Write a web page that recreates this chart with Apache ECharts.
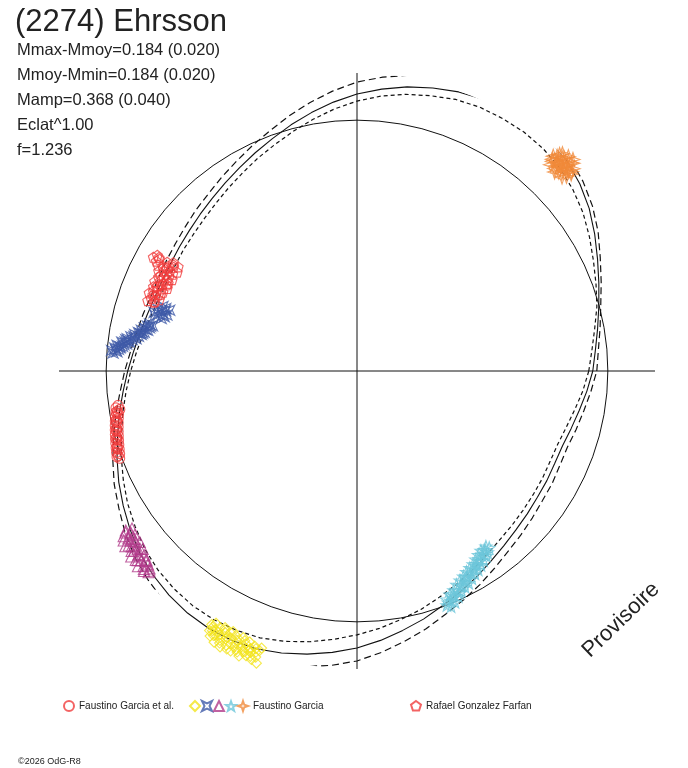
<!DOCTYPE html>
<html><head><meta charset="utf-8">
<script src="https://cdn.jsdelivr.net/npm/echarts@6/dist/echarts.min.js"></script>
<style>html,body{margin:0;padding:0;background:#fff}#c{width:688px;height:768px}</style>
</head><body><div id="c"></div>
<script>
// ---- data (radius relative to mean-brightness circle = 1, angle = rotational phase in degrees) ----
const curveAngles = Array.from({length:72}, (_, i) => i * 5);   // sampling grid 0..355 deg
const modelRadius = [0.940,0.954,0.974,0.998,1.026,1.058,1.094,1.130,1.160,1.184,1.196,1.200,1.198,1.194,1.184,1.168,1.150,1.128,
  1.104,1.076,1.046,1.016,0.986,0.960,0.936,0.916,0.898,0.884,0.872,0.864,0.858,0.856,0.858,0.866,0.878,0.894,
  0.914,0.936,0.962,0.988,1.018,1.048,1.076,1.104,1.130,1.150,1.166,1.178,1.184,1.184,1.178,1.164,1.146,1.126,
  1.104,1.078,1.050,1.024,0.996,0.972,0.950,0.928,0.910,0.896,0.886,0.878,0.874,0.870,0.872,0.884,0.900,0.920];
const upperRadius = [0.956,0.966,0.984,1.006,1.036,1.070,1.110,1.146,1.176,1.200,1.216,1.224,1.226,1.228,1.224,1.212,1.196,1.176,
  1.152,1.120,1.086,1.052,1.018,0.990,0.964,0.942,0.922,0.908,0.894,0.884,0.878,0.874,0.874,0.882,0.892,0.906,
  0.926,0.948,0.976,1.004,1.036,1.068,1.096,1.128,1.156,1.178,1.198,1.214,1.224,1.228,1.224,1.212,1.196,1.178,
  1.156,1.126,1.094,1.064,1.032,1.006,0.982,0.958,0.938,0.924,0.912,0.902,0.898,0.892,0.892,0.904,0.918,0.936];
const lowerRadius = [0.924,0.940,0.962,0.990,1.014,1.040,1.070,1.100,1.124,1.144,1.156,1.162,1.162,1.160,1.152,1.136,1.120,1.100,
  1.076,1.048,1.018,0.988,0.960,0.936,0.912,0.892,0.874,0.860,0.850,0.844,0.838,0.838,0.842,0.850,0.864,0.882,
  0.902,0.924,0.948,0.972,1.000,1.028,1.056,1.080,1.104,1.122,1.134,1.142,1.144,1.140,1.132,1.116,1.096,1.074,
  1.052,1.030,1.006,0.984,0.960,0.938,0.918,0.898,0.882,0.872,0.864,0.858,0.854,0.850,0.852,0.864,0.882,0.904];
const meanRadius = 1.0;
const axisExtent = 1.188;

// observations [radius, phase angle]
const fgEtAl = [[0.962,188.2],[0.972,188.7],[0.958,189.2],[0.975,189.7],[0.966,190.2],[0.980,190.7],[0.970,191.2],[0.984,191.7],[0.974,192.2],[0.988,192.7],
  [0.978,193.2],[0.992,193.7],[0.982,194.2],[0.996,194.7],[0.986,195.2],[1.000,195.7],[0.990,196.2],[1.004,196.7],[0.994,197.2],[1.008,197.7],
  [0.998,198.2],[1.012,198.7],[1.002,199.2],[1.016,199.7],[1.008,200.2],[0.972,190.0],[0.980,192.0],[0.988,194.0],[0.996,196.0],[1.004,198.0],
  [0.968,189.5],[0.978,191.5],[0.986,193.5],[0.994,195.5],[1.002,197.5],[1.010,199.5]];
const fgYellow = [[1.165,240.2],[1.190,240.4],[1.152,240.8],[1.208,241.0],[1.175,241.3],[1.195,241.7],[1.160,241.9],[1.222,242.2],[1.185,242.5],[1.150,242.8],
  [1.205,243.0],[1.168,243.3],[1.228,243.6],[1.190,243.9],[1.158,244.2],[1.212,244.5],[1.178,244.8],[1.200,245.1],[1.160,245.4],[1.225,245.7],
  [1.188,246.0],[1.170,246.3],[1.210,246.6],[1.155,246.9],[1.195,247.2],[1.230,247.5],[1.175,247.8],[1.205,248.1],[1.162,248.4],[1.218,248.7],
  [1.185,249.0],[1.200,249.3],[1.170,249.6],[1.225,249.9],[1.192,250.2],[1.210,250.5],[1.180,250.8],[1.232,251.0],[1.182,244.0],[1.205,246.0],
  [1.180,242.0],[1.190,248.0],[1.172,240.6],[1.200,241.5],[1.158,243.0],[1.215,243.2],[1.175,245.9],[1.218,246.9],[1.165,247.4],[1.195,248.9],
  [1.178,250.0],[1.215,249.5],[1.150,244.6],[1.192,242.9],[1.208,247.8],[1.168,251.0],[1.185,240.9],[1.224,244.9]];
const fgBlue = [[0.975,175.8],[0.960,175.4],[0.982,175.2],[0.955,174.8],[0.970,174.6],[0.948,174.2],[0.962,173.9],[0.935,173.6],[0.925,173.3],[0.945,173.0],
  [0.915,172.6],[0.930,172.3],[0.905,172.0],[0.890,171.7],[0.912,171.4],[0.882,171.0],[0.898,170.7],[0.872,170.4],[0.885,170.0],[0.862,169.7],
  [0.875,169.3],[0.850,169.0],[0.865,168.6],[0.845,168.2],[0.855,167.9],[0.835,167.5],[0.848,167.2],[0.940,174.0],[0.925,172.0],[0.868,170.0],
  [0.965,175.0],[0.950,174.4],[0.932,172.9],[0.920,172.7],[0.900,171.2],[0.878,170.2],[0.858,168.9],[0.842,167.8],
  [0.812,163.2],[0.800,162.5],[0.825,164.0],[0.785,162.0],[0.835,164.6],[0.815,161.6],[0.808,165.0],[0.790,163.6],[0.830,162.8],[0.798,164.3],
  [0.802,161.9],[0.842,163.9],[0.818,163.0],[0.805,164.0]];
const fgMagenta = [[1.120,214.6],[1.095,215.0],[1.140,215.3],[1.112,215.7],[1.150,216.0],[1.100,216.4],[1.128,216.8],[1.158,217.1],[1.115,217.5],[1.138,217.9],
  [1.102,218.2],[1.150,218.6],[1.125,219.0],[1.165,219.4],[1.110,219.7],[1.140,220.1],[1.160,220.5],[1.122,220.9],[1.145,221.3],[1.170,221.7],
  [1.128,222.0],[1.152,222.4],[1.135,222.8],[1.165,223.2],[1.142,223.6],[1.155,224.0],[1.125,218.0],[1.135,220.0],[1.130,216.2],
  [1.108,215.5],[1.145,217.4],[1.118,219.3],[1.155,220.8],[1.132,221.9],[1.160,222.9],[1.140,218.9],[1.112,217.0],[1.148,223.9],[1.125,214.9]];
const fgCyan = [[1.000,291.0],[0.978,291.4],[1.010,291.8],[0.990,292.2],[0.965,292.6],[1.000,293.0],[0.975,293.4],[0.955,293.8],[0.985,294.2],[0.962,294.6],
  [0.940,295.0],[0.972,295.4],[0.950,295.8],[0.930,296.2],[0.962,296.6],[0.942,297.0],[0.922,297.4],[0.955,297.8],[0.932,298.2],[0.912,298.6],
  [0.945,299.0],[0.925,299.4],[0.905,299.8],[0.935,300.2],[0.915,300.6],[0.898,301.0],[0.928,301.4],[0.905,301.8],[0.888,302.2],[0.918,302.6],
  [0.895,303.0],[0.878,303.4],[0.908,303.8],[0.885,304.2],[0.870,304.6],[0.900,305.0],[0.875,305.4],[0.890,305.8],[0.868,306.3],[0.880,306.8],
  [0.992,291.5],[0.968,293.2],[0.952,296.0],[0.928,298.0],[0.918,300.4],[0.902,302.8],[0.888,304.8],[0.975,294.8],[0.938,297.6],[0.912,301.6],
  [0.982,292.9],[0.880,305.6]];
const fgOrange = [[1.160,42.6],[1.140,42.9],[1.180,43.1],[1.125,43.4],[1.165,43.6],[1.195,43.9],[1.145,44.1],[1.172,44.3],[1.130,44.6],[1.188,44.8],
  [1.155,45.0],[1.118,45.2],[1.200,45.4],[1.165,45.6],[1.138,45.9],[1.180,46.1],[1.150,46.3],[1.192,46.6],[1.128,46.8],[1.170,47.0],
  [1.148,47.3],[1.160,47.6],[1.158,44.0],[1.145,45.5],[1.170,46.5],[1.150,43.5],[1.165,44.7],[1.185,45.8],[1.150,46.9],[1.205,44.4],
  [1.135,44.0],[1.175,45.0],[1.155,46.0],[1.190,44.2],[1.142,47.0],[1.168,42.9],[1.128,45.7],[1.182,46.9],[1.160,43.3],[1.150,45.1]];
const rgf = [[0.850,149.5],[0.825,149.8],[0.872,150.2],[0.840,150.5],[0.860,150.9],[0.818,151.2],[0.880,151.6],[0.845,151.9],[0.830,152.3],[0.866,152.6],
  [0.850,153.0],[0.885,153.3],[0.822,153.7],[0.858,154.0],[0.840,154.4],[0.875,154.7],[0.830,155.1],[0.862,155.4],[0.848,155.8],[0.882,156.1],
  [0.825,156.5],[0.865,156.8],[0.845,157.2],[0.878,157.5],[0.835,157.9],[0.860,158.2],[0.872,158.6],[0.848,159.0],[0.885,159.4],[0.858,159.8],
  [0.838,160.2],[0.870,160.6],[0.852,161.0],[0.880,161.4],[0.905,150.5],[0.912,151.3],[0.920,149.9],[0.898,152.0],[0.930,150.8],
  [0.845,150.0],[0.862,151.5],[0.838,153.5],[0.870,153.9],[0.852,156.3],[0.840,158.6],[0.868,159.6],[0.855,161.3],[0.875,152.0],[0.832,155.6],
  [0.865,157.2],[0.910,150.2]];

const titleText = '(2274) Ehrsson';
const statLines = ['Mmax-Mmoy=0.184 (0.020)','Mmoy-Mmin=0.184 (0.020)','Mamp=0.368 (0.040)','Eclat^1.00','f=1.236'];

// ---- build ----
const FONT = '"Liberation Sans", Arial, sans-serif';
function closed(rs){ const d = curveAngles.map((a,i)=>[rs[i],a]); d.push([rs[0],360]); return d; }
const circleData = [];
for (let a = 0; a <= 360; a += 5) circleData.push([meanRadius, a]);

const SYM = {
  star5: 'path://M0,-10 L2.35,-3.24 L9.51,-3.09 L3.8,1.24 L5.88,8.09 L0,4 L-5.88,8.09 L-3.8,1.24 L-9.51,-3.09 L-2.35,-3.24 Z',
  star4: 'path://M0,-10 L2.5,-2.5 L10,0 L2.5,2.5 L0,10 L-2.5,2.5 L-10,0 L-2.5,-2.5 Z',
  quad: 'path://M-8,-8 L0,-4 L8,-8 L4,0 L8,8 L0,4 L-8,8 L-4,0 Z',
  pent: 'path://M0,-10 L9.51,-3.09 L5.88,8.09 L-5.88,8.09 L-9.51,-3.09 Z'
};
function scat(name, data, symbol, size, color){
  return {type:'scatter', coordinateSystem:'polar', name, data, symbol, symbolSize:size, clip:false, z:3,
    itemStyle:{color:'rgba(0,0,0,0)', borderColor:color, borderWidth:1.1}, silent:true};
}
function curve(data, type, width){
  return {type:'line', coordinateSystem:'polar', data, smooth:false, symbol:'none', clip:false, silent:true, z:2,
    lineStyle:{color:'#111', width, type}};
}

const chart = echarts.init(document.getElementById('c'), null, {renderer:'canvas'});
const legendText = {fontSize:10, color:'#222', fontFamily:FONT};
chart.setOption({
  animation:false,
  backgroundColor:'#fff',
  title:[
    {text:titleText, left:15, top:7, padding:0, textStyle:{fontSize:31, fontWeight:'normal', color:'#222', fontFamily:FONT}},
    {text:statLines.join('\n'), left:17, top:38, padding:0, textStyle:{fontSize:16.5, lineHeight:25, fontWeight:'normal', color:'#222', fontFamily:FONT}},
    {text:'©2026 OdG-R8', left:18, top:757, padding:0, textStyle:{fontSize:9, fontWeight:'normal', color:'#222', fontFamily:FONT}}
  ],
  legend:[
    {data:['Faustino Garcia et al.'], left:63, top:700, itemWidth:10, itemHeight:10, selectedMode:false, padding:0, textStyle:legendText},
    {data:['Faustino Garcia (y)','Faustino Garcia (b)','Faustino Garcia (m)','Faustino Garcia (c)','Faustino Garcia'], left:189, top:700, itemWidth:10, itemHeight:10, itemGap:0, selectedMode:false, padding:0,
      formatter: n => n === 'Faustino Garcia' ? n : '', textStyle:legendText},
    {data:['Rafael Gonzalez Farfan'], left:410, top:700, itemWidth:10, itemHeight:10, selectedMode:false, padding:0, textStyle:legendText}
  ],
  polar:{center:[357,371], radius:298},
  radiusAxis:{type:'value', min:0, max:axisExtent, axisLine:{show:false}, axisTick:{show:false}, axisLabel:{show:false}, splitLine:{show:false}},
  angleAxis:{type:'value', min:0, max:360, interval:90, startAngle:0, clockwise:false,
    axisLine:{show:false}, axisTick:{show:false}, axisLabel:{show:false},
    splitLine:{show:true, lineStyle:{color:'#111', width:1}}},
  graphic:[
    {type:'text', x:621, y:620, rotation:44*Math.PI/180,
     style:{text:'Provisoire', font:'22px "Liberation Sans", Arial, sans-serif', fill:'#222', align:'center', verticalAlign:'middle', textAlign:'center', textVerticalAlign:'middle'}}
  ],
  series:[
    {type:'line', coordinateSystem:'polar', data:circleData, smooth:false, symbol:'none', clip:false, silent:true, z:1, lineStyle:{color:'#111', width:1}},
    curve(closed(upperRadius), [7,4], 1.2),
    curve(closed(lowerRadius), [4,3], 1.2),
    curve(closed(modelRadius), 'solid', 1.1),
    scat('Faustino Garcia et al.', fgEtAl, 'circle', 10, '#f03c3c'),
    scat('Faustino Garcia (y)', fgYellow, 'diamond', 10, '#f2e41c'),
    scat('Faustino Garcia (b)', fgBlue, SYM.quad, 10, '#3f5aa8'),
    scat('Faustino Garcia (m)', fgMagenta, 'triangle', 11, '#b03a8a'),
    scat('Faustino Garcia (c)', fgCyan, SYM.star5, 12, '#6cc6da'),
    scat('Faustino Garcia', fgOrange, SYM.star4, 14, '#f08a3a'),
    scat('Rafael Gonzalez Farfan', rgf, SYM.pent, 10, '#f03c3c')
  ]
});
</script></body></html>
